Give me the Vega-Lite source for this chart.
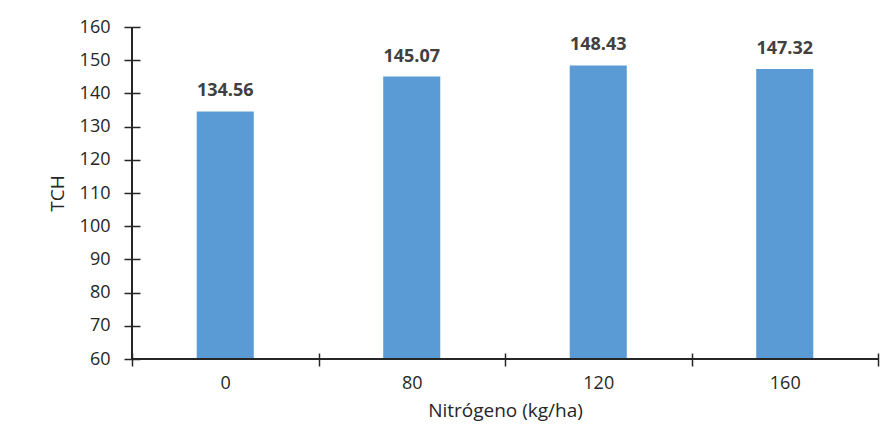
{
  "$schema": "https://vega.github.io/schema/vega-lite/v6.json",
  "width": 746,
  "height": 332,
  "autosize": {"type": "none"},
  "padding": {"left": 132, "top": 27, "right": 14, "bottom": 89},
  "background": "white",
  "config": {
    "view": {"stroke": null},
    "font": "Open Sans",
    "axis": {
      "labelFont": "Open Sans",
      "titleFont": "Open Sans",
      "labelFontSize": 18,
      "titleFontSize": 19,
      "titleFontWeight": "normal",
      "labelColor": "#262626",
      "titleColor": "#262626",
      "tickColor": "#262626",
      "tickWidth": 1.5,
      "grid": false,
      "domain": false,
      "labelOverlap": false
    }
  },
  "data": {
    "values": [
      {"nitrogeno": "0", "tch": 134.56},
      {"nitrogeno": "80", "tch": 145.07},
      {"nitrogeno": "120", "tch": 148.43},
      {"nitrogeno": "160", "tch": 147.32}
    ]
  },
  "encoding": {
    "x": {
      "field": "nitrogeno",
      "type": "nominal",
      "sort": null,
      "scale": {"paddingInner": 0, "paddingOuter": 0},
      "axis": {
        "title": "Nitrógeno (kg/ha)",
        "labelAngle": 0,
        "tickBand": "extent",
        "offset": -6,
        "tickSize": 13,
        "labelPadding": 8,
        "titlePadding": 9
      }
    },
    "y": {
      "field": "tch",
      "type": "quantitative",
      "scale": {"domain": [60, 160], "nice": false, "zero": false},
      "axis": {
        "title": "TCH",
        "values": [60, 70, 80, 90, 100, 110, 120, 130, 140, 150, 160],
        "tickCount": 11,
        "labelOverlap": false,
        "offset": -8,
        "tickSize": 16,
        "labelPadding": 14,
        "titlePadding": 12
      }
    }
  },
  "layer": [
    {
      "mark": {"type": "bar", "color": "#5B9BD5", "width": {"band": 0.306}},
      "encoding": {"y2": {"datum": 60}}
    },
    {
      "mark": {
        "type": "text",
        "baseline": "bottom",
        "dy": -11,
        "fontSize": 18,
        "fontWeight": "bold",
        "color": "#404040",
        "font": "Open Sans"
      },
      "encoding": {
        "text": {"field": "tch", "type": "quantitative", "format": ".2f"}
      }
    },
    {
      "mark": {"type": "rule", "color": "#262626", "strokeWidth": 1.5},
      "encoding": {"x": null, "y": {"datum": 60}}
    },
    {
      "mark": {"type": "rule", "color": "#262626", "strokeWidth": 1.5},
      "encoding": {"y": null, "x": {"datum": "0", "bandPosition": 0}}
    }
  ]
}
